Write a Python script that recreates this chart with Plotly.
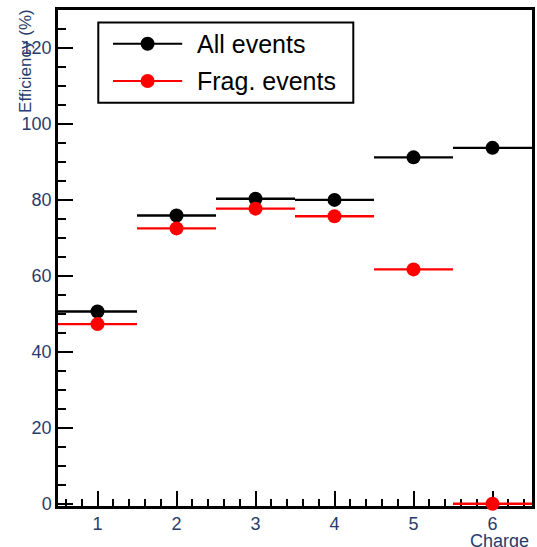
import plotly.graph_objects as go

charge = [1, 2, 3, 4, 5, 6]
half_width = [0.5, 0.5, 0.5, 0.5, 0.5, 0.5]
all_events = [50.6, 75.9, 80.3, 80.0, 91.2, 93.7]
frag_events = [47.3, 72.5, 77.7, 75.7, 61.7, 0.0]
legend_labels = ["All events", "Frag. events"]
colors = ["black", "#ff0000"]

navy = "#283c6c"
font_family = "Liberation Sans, Arial, sans-serif"

fig = go.Figure()
for vals, col, name in [(all_events, colors[0], legend_labels[0]),
                        (frag_events, colors[1], legend_labels[1])]:
    fig.add_trace(go.Scatter(
        x=charge, y=vals, mode="markers", name=name,
        marker=dict(color=col, size=14, symbol="circle"),
        error_x=dict(type="data", array=half_width, width=0, thickness=2.4, color=col),
        cliponaxis=False, showlegend=False,
    ))

# Manual legend (ROOT style TLegend)
shapes = [dict(type="rect", xref="paper", yref="paper", x0=0.085, x1=0.623, y0=0.813, y1=0.975,
               line=dict(color="black", width=2), fillcolor="white", layer="above")]
annotations = []
leg_y = [0.932, 0.857]
for yy, col, lab in zip(leg_y, colors, legend_labels):
    shapes.append(dict(type="line", xref="paper", yref="paper", x0=0.116, x1=0.262, y0=yy, y1=yy,
                       line=dict(color=col, width=2), layer="above"))
    shapes.append(dict(type="circle", xref="paper", yref="paper", xsizemode="pixel", ysizemode="pixel",
                       xanchor=0.189, yanchor=yy, x0=-7, x1=7, y0=-7, y1=7,
                       fillcolor=col, line=dict(color=col, width=0), layer="above"))
    annotations.append(dict(xref="paper", yref="paper", x=0.290, y=yy, text=lab, showarrow=False,
                            xanchor="left", yanchor="middle",
                            font=dict(family=font_family, size=25, color="black")))

annotations.append(dict(xref="paper", yref="paper", x=-0.070, y=0.897, text="Efficiency (%)",
                        textangle=-90, showarrow=False, xanchor="center", yanchor="middle",
                        font=dict(family=font_family, size=17, color=navy)))
annotations.append(dict(xref="paper", yref="paper", x=0.997, y=-0.070, text="Charge",
                        showarrow=False, xanchor="right", yanchor="middle",
                        font=dict(family=font_family, size=18, color=navy)))

fig.update_layout(
    width=537, height=547,
    margin=dict(l=58, r=2, t=10, b=41),
    paper_bgcolor="white", plot_bgcolor="white",
    font=dict(family=font_family, size=18, color=navy),
    shapes=shapes, annotations=annotations,
    xaxis=dict(range=[0.5, 6.5], tickmode="array", tickvals=charge,
               ticks="inside", ticklen=15, tickwidth=2, tickcolor="black",
               showline=True, linecolor="black", linewidth=2.5, mirror=True,
               showgrid=False, zeroline=False, layer="below traces",
               tickfont=dict(size=18, color=navy), ticklabelstandoff=0,
               minor=dict(dtick=0.2, tick0=0, ticks="inside", ticklen=7, tickwidth=2, tickcolor="black", showgrid=False)),
    yaxis=dict(range=[-0.6, 130], tick0=0, dtick=20,
               ticks="inside", ticklen=15, tickwidth=2, tickcolor="black",
               showline=True, linecolor="black", linewidth=2.5, mirror=True,
               showgrid=False, zeroline=False, layer="below traces",
               tickfont=dict(size=18, color=navy),
               minor=dict(dtick=5, tick0=0, ticks="inside", ticklen=8, tickwidth=2, tickcolor="black", showgrid=False)),
)

fig.write_html("out.html")
